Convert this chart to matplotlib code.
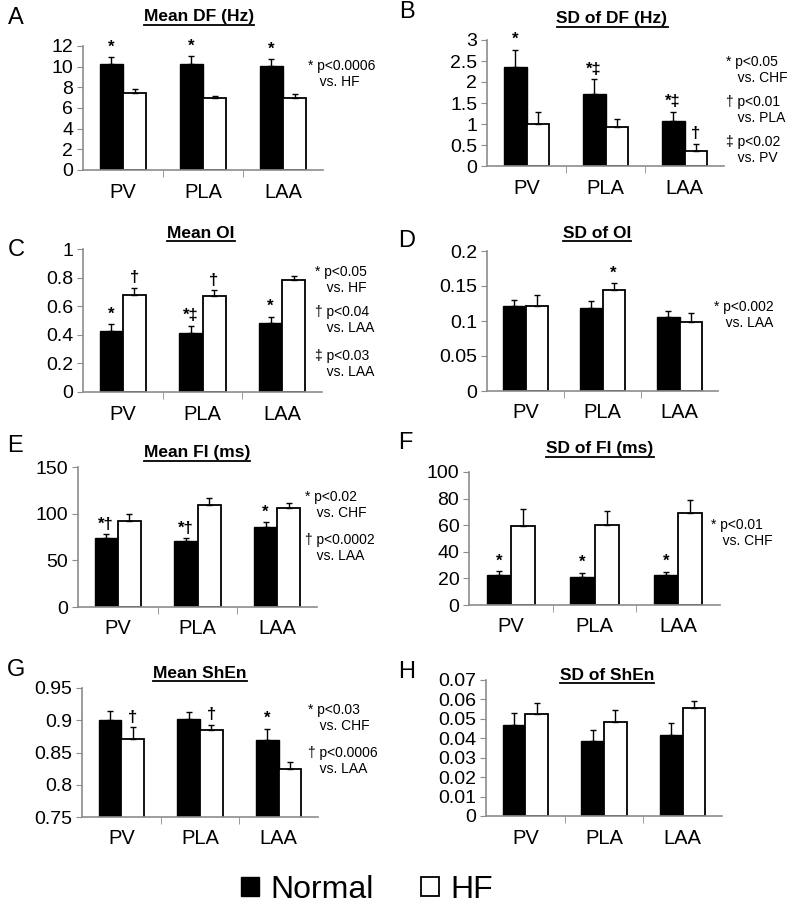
import numpy as np
import matplotlib.pyplot as plt
from matplotlib.patches import Patch

plt.rcParams['font.family'] = ['Liberation Sans', 'DejaVu Sans']

sites = ["PV", "PLA", "LAA"]

# panel A - Mean DF (Hz)
dfm_norm = [10.25, 10.25, 10.05]
dfm_norm_err = [0.65, 0.75, 0.65]
dfm_hf = [7.45, 7.0, 7.0]
dfm_hf_err = [0.4, 0.15, 0.4]

# panel B - SD of DF (Hz)
dfs_norm = [2.35, 1.72, 1.06]
dfs_norm_err = [0.42, 0.34, 0.22]
dfs_hf = [1.0, 0.94, 0.36]
dfs_hf_err = [0.28, 0.18, 0.16]

# panel C - Mean OI
oim_norm = [0.43, 0.415, 0.485]
oim_norm_err = [0.045, 0.045, 0.042]
oim_hf = [0.68, 0.67, 0.78]
oim_hf_err = [0.048, 0.04, 0.03]

# panel D - SD of OI
ois_norm = [0.121, 0.118, 0.106]
ois_norm_err = [0.009, 0.011, 0.009]
ois_hf = [0.121, 0.145, 0.098]
ois_hf_err = [0.016, 0.009, 0.013]

# panel E - Mean FI (ms)
fim_norm = [73.5, 71.0, 86.0]
fim_norm_err = [4.3, 2.5, 4.8]
fim_hf = [92.5, 109.5, 105.8]
fim_hf_err = [7.0, 7.0, 5.4]

# panel F - SD of FI (ms)
fis_norm = [22.5, 20.8, 22.5]
fis_norm_err = [2.8, 3.5, 2.6]
fis_hf = [59.3, 60.5, 68.8]
fis_hf_err = [12.7, 10.0, 10.0]

# panel G - Mean ShEn
shm_norm = [0.9, 0.902, 0.87]
shm_norm_err = [0.0145, 0.011, 0.0165]
shm_hf = [0.871, 0.885, 0.824]
shm_hf_err = [0.018, 0.008, 0.012]

# panel H - SD of ShEn
shs_norm = [0.0468, 0.0388, 0.0417]
shs_norm_err = [0.006, 0.0055, 0.006]
shs_hf = [0.0523, 0.0486, 0.0554]
shs_hf_err = [0.006, 0.006, 0.004]

# (letter, title, normal, normal err, hf, hf err, ylim, ystep,
#  marks [(site, series 0=normal 1=hf, symbol)], notes,
#  axes rect px (left, top, width, bottom), letter xy, title xy, notes x, notes y centres)
panels = [
    ("A", "Mean DF (Hz)", dfm_norm, dfm_norm_err, dfm_hf, dfm_hf_err, (0, 12), 2,
     [(0, 0, "*"), (1, 0, "*"), (2, 0, "*")],
     ["* p<0.0006\n   vs. HF"],
     (83, 46, 240, 170), (16, 18), (199, 17), 308, [74]),
    ("B", "SD of DF (Hz)", dfs_norm, dfs_norm_err, dfs_hf, dfs_hf_err, (0, 3), 0.5,
     [(0, 0, "*"), (1, 0, "*‡"), (2, 0, "*‡"), (2, 1, "†")],
     ["* p<0.05\n   vs. CHF", "† p<0.01\n   vs. PLA", "‡ p<0.02\n   vs. PV"],
     (487, 40, 237, 166), (407, 12), (612, 19), 726, [70, 110, 150]),
    ("C", "Mean OI", oim_norm, oim_norm_err, oim_hf, oim_hf_err, (0, 1), 0.2,
     [(0, 0, "*"), (0, 1, "†"), (1, 0, "*‡"), (1, 1, "†"), (2, 0, "*")],
     ["* p<0.05\n   vs. HF", "† p<0.04\n   vs. LAA", "‡ p<0.03\n   vs. LAA"],
     (83, 249, 239, 392), (16, 250), (201, 233), 315, [280, 320, 364]),
    ("D", "SD of OI", ois_norm, ois_norm_err, ois_hf, ois_hf_err, (0, 0.2), 0.05,
     [(1, 1, "*")],
     ["* p<0.002\n   vs. LAA"],
     (487, 251, 231, 391), (407, 241), (597, 233), 714, [315]),
    ("E", "Mean FI (ms)", fim_norm, fim_norm_err, fim_hf, fim_hf_err, (0, 150), 50,
     [(0, 0, "*†"), (1, 0, "*†"), (2, 0, "*")],
     ["* p<0.02\n   vs. CHF", "† p<0.0002\n   vs. LAA"],
     (78, 467, 239, 607), (15, 446), (197, 453), 305, [505, 548]),
    ("F", "SD of FI (ms)", fis_norm, fis_norm_err, fis_hf, fis_hf_err, (0, 100), 20,
     [(0, 0, "*"), (1, 0, "*"), (2, 0, "*")],
     ["* p<0.01\n   vs. CHF"],
     (469, 472, 251, 605), (405, 443), (600, 449), 711, [533]),
    ("G", "Mean ShEn", shm_norm, shm_norm_err, shm_hf, shm_hf_err, (0.75, 0.95), 0.05,
     [(0, 1, "†"), (1, 1, "†"), (2, 0, "*")],
     ["* p<0.03\n   vs. CHF", "† p<0.0006\n   vs. LAA"],
     (82, 688, 236, 817), (16, 670), (200, 673), 308, [718, 761]),
    ("H", "SD of ShEn", shs_norm, shs_norm_err, shs_hf, shs_hf_err, (0, 0.07), 0.01,
     [],
     [],
     (486, 680, 236, 816), (407, 672), (607, 675), 0, []),
]

W, H = 800, 909
fig = plt.figure(figsize=(W / 100, H / 100), dpi=100)

bw = 0.29
grey = "#8c8c8c"

for (letter, title, nv, ne, hv, he, ylim, ystep, marks, notes,
     rect, letter_xy, title_xy, note_x, note_ys) in panels:
    left, top, width, bottom = rect
    ax = fig.add_axes([left / W, 1 - bottom / H, width / W, (bottom - top) / H])
    x = np.arange(3)
    ax.bar(x - bw / 2, nv, bw, color="black", edgecolor="black", linewidth=1,
           yerr=[np.zeros(3), ne], error_kw=dict(ecolor="black", elinewidth=1, capsize=2.5, capthick=1))
    ax.bar(x + bw / 2, hv, bw, color="white", edgecolor="black", linewidth=1.3,
           yerr=[np.zeros(3), he], error_kw=dict(ecolor="black", elinewidth=1, capsize=2.5, capthick=1))
    ax.set_xlim(-0.5, 2.5)
    ax.set_ylim(*ylim)
    yt = np.arange(ylim[0], ylim[1] + ystep / 2, ystep)
    ax.set_yticks(yt)
    ax.set_yticklabels(["{:g}".format(round(v, 4)) for v in yt], fontsize=14)
    ax.set_xticks(x)
    ax.set_xticklabels(sites, fontsize=14.5)
    ax.set_xticks([0.5, 1.5], minor=True)
    ax.tick_params(axis="x", which="major", length=0, pad=9)
    ax.tick_params(axis="x", which="minor", length=5, color=grey, direction="out")
    ax.tick_params(axis="y", length=4, color=grey, direction="out", pad=3)
    for s in ("top", "right"):
        ax.spines[s].set_visible(False)
    for s in ("left", "bottom"):
        ax.spines[s].set_color(grey)
        ax.spines[s].set_linewidth(1.2)

    for (i, ser, sym) in marks:
        top_val = (nv[i] + ne[i]) if ser == 0 else (hv[i] + he[i])
        xp = x[i] - bw / 2 if ser == 0 else x[i] + bw / 2
        ax.annotate(sym, (xp, top_val), xytext=(0, 2), textcoords="offset points",
                    ha="center", va="bottom", fontsize=12, fontweight="bold")

    # panel letter and underlined title
    fig.text(letter_xy[0] / W, 1 - letter_xy[1] / H, letter, fontsize=17,
             ha="center", va="center")
    t = fig.text(title_xy[0] / W, 1 - title_xy[1] / H, title, fontsize=12.5,
                 fontweight="bold", ha="center", va="center")
    fig.canvas.draw()
    bb = t.get_window_extent()
    fig.add_artist(plt.Line2D([bb.x0 / W, bb.x1 / W], [(bb.y0 - 0.5) / H, (bb.y0 - 0.5) / H],
                              color="black", linewidth=1.3))

    # significance notes to the right
    for note, ny in zip(notes, note_ys):
        fig.text(note_x / W, 1 - ny / H, note, fontsize=10,
                 ha="left", va="center", linespacing=1.15)

handles = [Patch(facecolor="black", edgecolor="black", label="Normal"),
           Patch(facecolor="white", edgecolor="black", linewidth=1.3, label="HF")]
fig.legend(handles=handles, loc="center", bbox_to_anchor=(367 / W, 1 - 890 / H), ncol=2,
           frameon=False, fontsize=23, handlelength=0.55, handleheight=0.55,
           handletextpad=0.35, columnspacing=1.5)

fig.savefig("out.png", dpi=100, facecolor="white")
